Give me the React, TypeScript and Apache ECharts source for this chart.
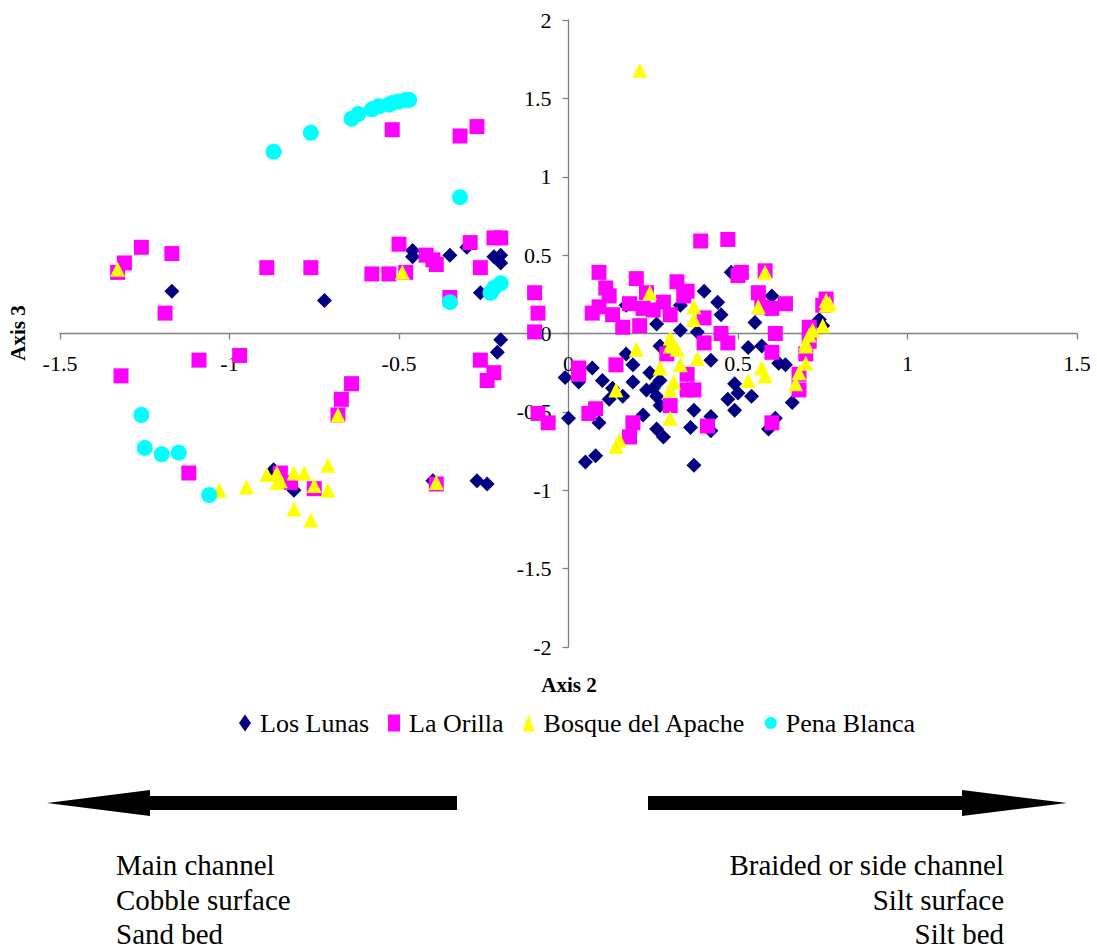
import React, { useEffect, useRef } from "react";
import * as echarts from "echarts";

// Ordination scores (Axis 2, Axis 3) for each site
const losLunas: [number, number][] = [
  [-1.17, 0.27], [-0.72, 0.21], [-0.46, 0.53], [-0.46, 0.49], [-0.35, 0.5], [-0.3, 0.55],
  [-0.22, 0.49], [-0.2, 0.5], [-0.2, 0.45], [-0.26, 0.26], [-0.2, -0.04], [-0.21, -0.12],
  [-0.4, -0.94], [-0.27, -0.94], [-0.24, -0.96], [-0.81, -1.0], [-0.87, -0.87],
  [0.17, 0.18], [0.26, 0.06], [0.33, 0.18], [0.33, 0.02], [0.48, 0.39], [0.4, 0.27],
  [0.44, 0.2], [0.45, 0.12], [0.6, 0.24], [0.55, 0.07], [0.38, 0.01],
  [-0.01, -0.28], [0.07, -0.22], [0.1, -0.3], [0.03, -0.31], [0.0, -0.54], [0.09, -0.57],
  [0.05, -0.82], [0.08, -0.78], [0.19, -0.2], [0.17, -0.13], [0.19, -0.31], [0.16, -0.4],
  [0.23, -0.36], [0.24, -0.25], [0.25, -0.35], [0.22, -0.52], [0.26, -0.61], [0.28, -0.66],
  [0.27, -0.3], [0.27, -0.46], [0.27, -0.08], [0.26, -0.4], [0.53, -0.09], [0.42, -0.17],
  [0.49, -0.32], [0.5, -0.38], [0.54, -0.4], [0.47, -0.42], [0.49, -0.49], [0.37, -0.49],
  [0.36, -0.6], [0.42, -0.53], [0.42, -0.62], [0.62, -0.19], [0.64, -0.2], [0.61, -0.54],
  [0.66, -0.44], [0.37, -0.84], [0.59, -0.61], [0.57, -0.08], [0.74, 0.09], [0.75, 0.05],
  [0.13, -0.35], [0.12, -0.42],
];

const laOrilla: [number, number][] = [
  [-1.26, 0.55], [-1.17, 0.51], [-1.31, 0.45], [-1.33, 0.39], [-0.89, 0.42], [-0.76, 0.42],
  [-0.52, 1.3], [-0.32, 1.26], [-0.27, 1.32], [-0.5, 0.57], [-0.58, 0.38], [-0.53, 0.38],
  [-0.48, 0.39], [-0.42, 0.5], [-0.4, 0.47], [-0.39, 0.44], [-0.29, 0.58], [-0.26, 0.42],
  [-0.22, 0.61], [-0.2, 0.61], [-0.35, 0.23], [-0.1, 0.26], [-0.09, 0.13], [-0.1, 0.01],
  [-1.19, 0.13], [-1.09, -0.17], [-0.97, -0.14], [-1.32, -0.27], [-1.12, -0.89],
  [-0.85, -0.89], [-0.82, -0.95], [-0.75, -0.99], [-0.64, -0.32], [-0.67, -0.42],
  [-0.68, -0.52], [-0.39, -0.96], [-0.26, -0.17], [-0.22, -0.25], [-0.24, -0.3],
  [-0.09, -0.51], [-0.06, -0.57],
  [0.09, 0.39], [0.11, 0.29], [0.12, 0.24], [0.07, 0.13], [0.09, 0.17], [0.13, 0.12],
  [0.16, 0.04], [0.2, 0.35], [0.18, 0.19], [0.21, 0.05], [0.23, 0.26], [0.22, 0.16],
  [0.25, 0.15], [0.28, 0.2], [0.3, 0.12], [0.32, 0.33], [0.34, 0.24], [0.39, 0.59],
  [0.47, 0.6], [0.51, 0.39], [0.5, 0.37], [0.58, 0.4], [0.56, 0.26], [0.57, 0.17],
  [0.6, 0.16], [0.64, 0.19], [0.35, 0.27], [0.4, 0.1], [0.45, 0.0], [0.61, 0.0],
  [0.71, 0.04], [0.76, 0.22], [0.75, 0.18],
  [0.03, -0.22], [0.03, -0.26], [0.14, -0.2], [0.06, -0.51], [0.08, -0.48], [0.19, -0.57],
  [0.18, -0.66], [0.29, -0.13], [0.3, -0.46], [0.35, -0.36], [0.35, -0.26], [0.4, -0.06],
  [0.47, -0.06], [0.6, -0.12], [0.37, -0.36], [0.41, -0.59], [0.6, -0.57], [0.68, -0.26],
  [0.68, -0.36], [0.7, -0.13], [0.71, -0.05],
];

const bosqueDelApache: [number, number][] = [
  [-1.33, 0.41], [-0.49, 0.39], [0.21, 1.68], [-1.03, -1.0], [-0.95, -0.98], [-0.89, -0.9],
  [-0.86, -0.89], [-0.86, -0.95], [-0.81, -0.89], [-0.78, -0.89], [-0.75, -0.97],
  [-0.71, -0.84], [-0.71, -1.0], [-0.81, -1.12], [-0.76, -1.19], [-0.85, -0.94],
  [-0.68, -0.52], [-0.39, -0.95],
  [0.24, 0.26], [0.58, 0.39], [0.56, 0.17], [0.37, 0.17], [0.37, 0.09], [0.71, -0.01],
  [0.76, 0.21], [0.76, 0.18], [0.77, 0.19], [0.75, 0.05], [0.72, 0.02], [0.7, -0.06],
  [0.2, -0.1], [0.14, -0.36], [0.15, -0.68], [0.14, -0.72], [0.3, -0.08], [0.32, -0.1],
  [0.27, -0.22], [0.33, -0.2], [0.31, -0.31], [0.3, -0.36], [0.3, -0.54], [0.3, -0.03],
  [0.38, -0.16], [0.53, -0.3], [0.57, -0.22], [0.58, -0.27], [0.67, -0.32], [0.68, -0.25],
  [0.7, -0.19], [0.7, -0.08],
];

const penaBlanca: [number, number][] = [
  [-0.87, 1.16], [-0.76, 1.28], [-0.64, 1.37], [-0.62, 1.4], [-0.58, 1.43], [-0.56, 1.45],
  [-0.53, 1.46], [-0.52, 1.47], [-0.5, 1.48], [-0.48, 1.49], [-0.47, 1.49], [-0.32, 0.87],
  [-0.35, 0.2], [-0.23, 0.26], [-0.22, 0.29], [-0.2, 0.32], [-1.26, -0.52], [-1.25, -0.73],
  [-1.2, -0.77], [-1.15, -0.76], [-1.06, -1.03],
];

const seriesNames = ["Los Lunas", "La Orilla", "Bosque del Apache", "Pena Blanca"];
const xRange = { min: -1.5, max: 1.5, interval: 0.5 };
const yRange = { min: -2, max: 2, interval: 0.5 };
const leftNotes = ["Main channel", "Cobble surface", "Sand bed"];
const rightNotes = ["Braided or side channel", "Silt surface", "Silt bed"];

const FONT = '"Liberation Serif", "Times New Roman", serif';

// plot area
const WIDTH = 1097;
const HEIGHT = 949;
const GRID = { left: 60, right: 20, top: 20, bottom: 302 };

export default function App() {
  const ref = useRef<HTMLDivElement>(null);

  useEffect(() => {
    if (!ref.current) return;
    const chart = echarts.init(ref.current, null, { renderer: "svg" });

    const lineStyle = { color: "#808080", width: 1.3 };
    // both axes cross at the origin: shift them (with ticks and labels) off the grid edges
    const plotW = WIDTH - GRID.left - GRID.right;
    const plotH = HEIGHT - GRID.top - GRID.bottom;
    const xZeroFrac = (0 - xRange.min) / (xRange.max - xRange.min);
    const yZeroFrac = (0 - yRange.min) / (yRange.max - yRange.min);
    const xAxisOffset = -(plotH * yZeroFrac);
    const yAxisOffset = -(plotW * xZeroFrac);

    const noteGraphics: any[] = [];
    leftNotes.forEach((t, i) => {
      noteGraphics.push({
        type: "text",
        x: 116,
        y: 865 + i * 34.5,
        style: {
          text: t,
          fontFamily: FONT,
          fontSize: 29,
          fill: "#000",
          textAlign: "left",
          textVerticalAlign: "middle",
        },
      });
    });
    rightNotes.forEach((t, i) => {
      noteGraphics.push({
        type: "text",
        x: 1004,
        y: 865 + i * 34.5,
        style: {
          text: t,
          fontFamily: FONT,
          fontSize: 29,
          fill: "#000",
          textAlign: "right",
          textVerticalAlign: "middle",
        },
      });
    });

    chart.setOption({
      animation: false,
      backgroundColor: "#fff",
      grid: { ...GRID, outerBoundsMode: "none" },
      xAxis: {
        type: "value",
        ...xRange,
        position: "bottom",
        offset: xAxisOffset,
        axisLine: { onZero: false, lineStyle },
        axisTick: { show: true, length: 6, lineStyle },
        splitLine: { show: false },
        axisLabel: { color: "#000", fontFamily: FONT, fontSize: 22, margin: 19 },
      },
      yAxis: {
        type: "value",
        ...yRange,
        position: "left",
        offset: yAxisOffset,
        axisLine: { onZero: false, lineStyle },
        axisTick: { show: true, length: 6, lineStyle },
        splitLine: { show: false },
        axisLabel: { color: "#000", fontFamily: FONT, fontSize: 22, margin: 17 },
      },
      legend: {
        data: [
          { name: seriesNames[0], icon: "diamond" },
          { name: seriesNames[1], icon: "rect" },
          { name: seriesNames[2], icon: "triangle" },
          { name: seriesNames[3], icon: "circle" },
        ],
        left: 234,
        top: 705,
        itemWidth: 12,
        itemHeight: 17,
        itemGap: 19,
        textStyle: { color: "#000", fontFamily: FONT, fontSize: 26, padding: [0, 0, 0, 4] },
      },
      series: [
        {
          name: seriesNames[0],
          type: "scatter",
          data: losLunas,
          symbol: "diamond",
          symbolSize: 15,
          itemStyle: { color: "#000080", opacity: 1 },
        },
        {
          name: seriesNames[1],
          type: "scatter",
          data: laOrilla,
          symbol: "rect",
          symbolSize: 15,
          itemStyle: { color: "#ff00ff", opacity: 1 },
        },
        {
          name: seriesNames[2],
          type: "scatter",
          data: bosqueDelApache,
          symbol: "triangle",
          symbolSize: [15, 15],
          itemStyle: { color: "#ffff00", opacity: 1 },
        },
        {
          name: seriesNames[3],
          type: "scatter",
          data: penaBlanca,
          symbol: "circle",
          symbolSize: 16,
          itemStyle: { color: "#00ffff", opacity: 1 },
        },
      ],
      graphic: [
        {
          type: "text",
          x: 569,
          y: 685,
          style: {
            text: "Axis 2",
            fontFamily: FONT,
            fontSize: 21,
            fontWeight: "bold",
            fill: "#000",
            textAlign: "center",
            textVerticalAlign: "middle",
          },
        },
        {
          type: "text",
          x: 18,
          y: 333,
          rotation: Math.PI / 2,
          style: {
            text: "Axis 3",
            fontFamily: FONT,
            fontSize: 21,
            fontWeight: "bold",
            fill: "#000",
            textAlign: "center",
            textVerticalAlign: "middle",
          },
        },
        {
          type: "polygon",
          shape: {
            points: [
              [47, 803], [150, 790], [150, 796], [457, 796],
              [457, 810], [150, 810], [150, 816],
            ],
          },
          style: { fill: "#000" },
        },
        {
          type: "polygon",
          shape: {
            points: [
              [1067, 803], [962, 790], [962, 796], [648, 796],
              [648, 810], [962, 810], [962, 816],
            ],
          },
          style: { fill: "#000" },
        },
        ...noteGraphics,
      ],
    });

    return () => chart.dispose();
  }, []);

  return (
    <div
      ref={ref}
      style={{ position: "fixed", left: 0, top: 0, width: WIDTH, height: HEIGHT, background: "#fff" }}
    />
  );
}
